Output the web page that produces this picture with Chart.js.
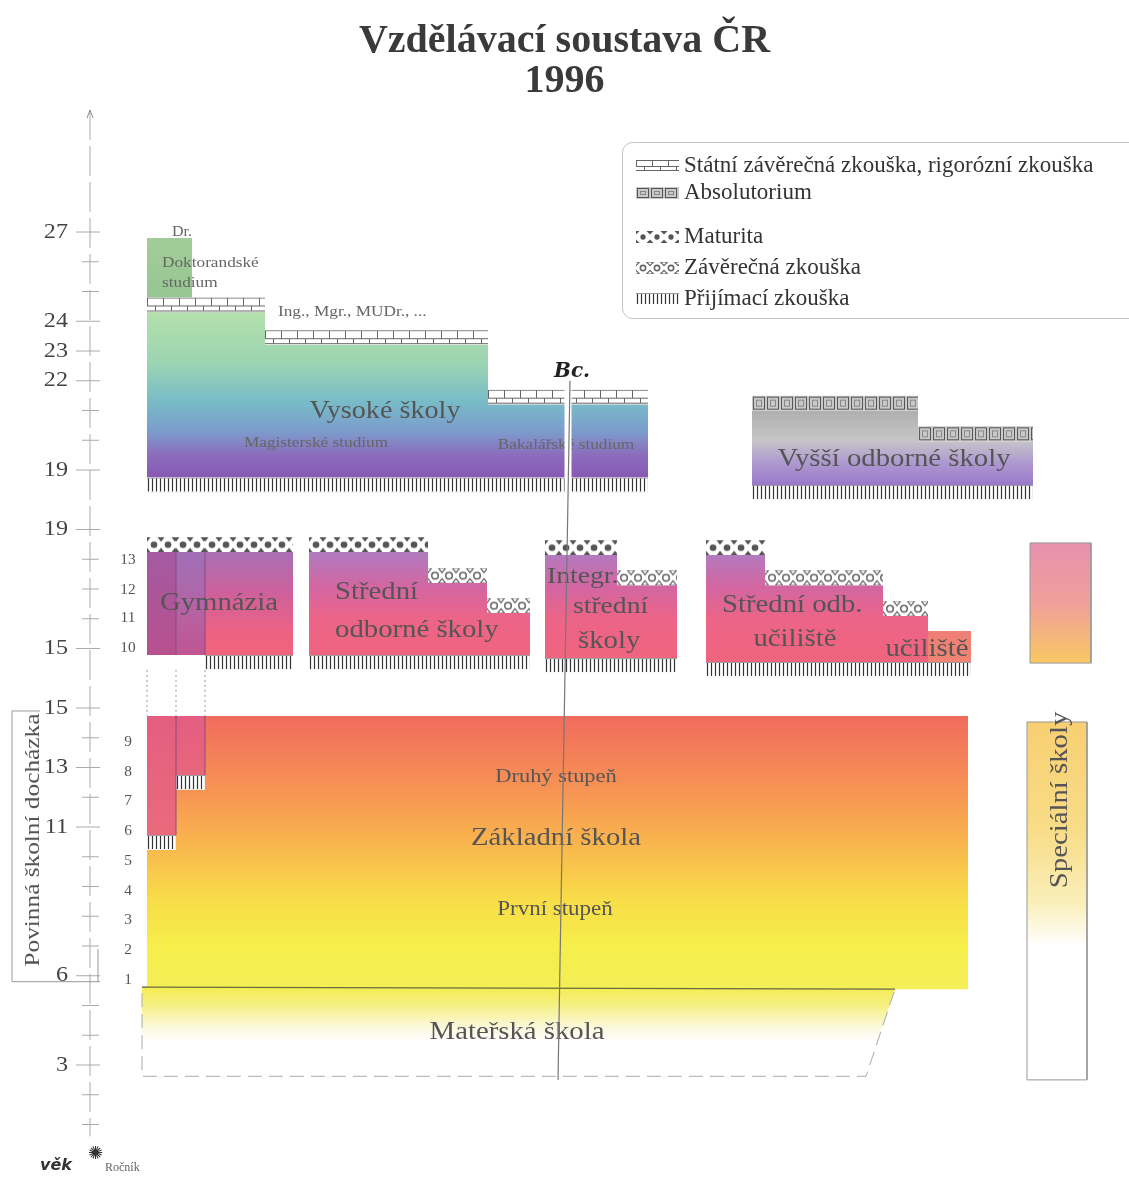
<!DOCTYPE html>
<html>
<head>
<meta charset="utf-8">
<script src="https://cdn.jsdelivr.net/npm/chart.js@4.4.1/dist/chart.umd.min.js"></script>
<style>
  html, body { margin: 0; padding: 0; background: #fff; }
  #wrap { width: 1129px; height: 1189px; }
</style>
</head>
<body>
<div id="wrap"><canvas id="chart"></canvas></div>
<script>
// age axis: three stacked sections (basic / secondary / tertiary), position -> printed age
const axisPos    = [31, 28, 27, 26, 23, 21, 17, 15, 13, 11, 6, 3];
const axisLabels = ['27', '24', '23', '22', '19', '19', '15', '15', '13', '11', '6', '3'];
const minorPos   = [1, 2, 4, 5, 7, 8, 9, 10, 12, 14, 18, 19, 20, 24, 25, 29, 30];

// school year (ročník)
const gradeLabels = ['1', '2', '3', '4', '5', '6', '7', '8', '9', '10', '11', '12', '13'];
const gradePos    = [5.85, 6.85, 7.85, 8.85, 9.85, 10.85, 11.85, 12.85, 13.85, 17, 18, 18.95, 19.95];

// school blocks: column edges, top of each step, bottom, exam closing each step, entrance exam span
const blockNames  = ['Základní škola', 'Gymnázium 8leté (1. část)', 'Gymnázium 6leté (1. část)', 'Speciální školy',
                     'Doktorandské studium', 'Vysoké školy', 'Vyšší odborné školy',
                     'Gymnázium 8leté', 'Gymnázium 6leté', 'Gymnázia', 'Střední odborné školy',
                     'Integrované střední školy', 'Střední odborná učiliště', 'Učiliště', 'Speciální školy (střední)'];
const blockEdges  = [[147, 968], [147, 176], [176, 205], [1027, 1087],
                     [147, 192], [147, 265, 488, 648], [752, 918, 1033],
                     [147, 176], [176, 205], [205, 293], [309, 428, 487, 530],
                     [545, 617, 677], [706, 765, 883, 928], [928, 971], [1030, 1091]];
const blockTops   = [[14.73], [14.73], [14.73], [14.53],
                     [30.8], [28.3, 27.2, 25.2], [25.0, 23.97],
                     [20.24], [20.24], [20.24], [20.24, 19.2, 18.19],
                     [20.14, 19.13], [20.14, 19.13, 18.09], [17.59], [20.55]];
const blockBottom = [5.55, 10.73, 12.75, 2.5,
                     28.8, 22.75, 22.5,
                     16.78, 16.78, 16.78, 16.78,
                     16.68, 16.55, 16.55, 16.51];
const blockExams  = [[null], [null], [null], [null],
                     [null], ['statni', 'statni', 'statni'], ['absolutorium', 'absolutorium'],
                     ['maturita'], ['maturita'], ['maturita'], ['maturita', 'zaverecna', 'zaverecna'],
                     ['maturita', 'zaverecna'], ['maturita', 'zaverecna', 'zaverecna'], [null], [null]];
const blockEntry  = [null, [147, 176], [176, 205], null,
                     null, [147, 648], [752, 1033],
                     null, null, [205, 293], [309, 530],
                     [545, 677], [706, 971], null, null];
// mateřská škola has a slanted right side
const kgShape = [[142, 5.62], [895, 5.55], [866, 2.62], [142, 2.62], [142, 5.62]];

const examTypes  = ['statni', 'absolutorium', 'maturita', 'zaverecna', 'prijimaci'];
const examLabels = ['Státní závěrečná zkouška, rigorózní zkouška', 'Absolutorium', 'Maturita',
                    'Závěrečná zkouška', 'Přijímací zkouška'];

// colours (vertical gradients, top stop first)
const pinkStops = [[20.24, '#b07cc0'], [19.1, '#d266a2'], [18.0, '#ec6488'], [16.6, '#f0647e']];
const blockFill = [
  [[14.73, '#f06c5e'], [12.8, '#f58a56'], [10.7, '#f9b04e'], [8.6, '#f8dc48'], [7, '#f6ee4a'], [5.55, '#f4ee58']],
  [[14.73, '#e45e80'], [10.73, '#ea6a7c']],
  [[14.73, '#e45e80'], [12.75, '#e8667c']],
  [[14.53, '#f8cf72'], [11, '#f8dc86'], [8.5, '#faeeb8'], [7, '#ffffff'], [2.5, '#ffffff']],
  [[30.8, '#a2cd98'], [28.8, '#96c692']],
  [[28.3, '#b3e0ab'], [26.6, '#9cd4b2'], [25.3, '#78bcc8'], [24.3, '#7c9ccc'], [23.5, '#8c6cbc'], [22.75, '#8858b4']],
  [[25.0, '#afafaf'], [24.0, '#c6c6c6'], [23.3, '#b09cd0'], [22.5, '#9a78cc']],
  [[20.24, '#a45aa2'], [16.78, '#b8508e']],
  [[20.24, '#a070b8'], [18.0, '#b860a0'], [16.78, '#c05592']],
  [[20.24, '#a870b4'], [18.8, '#d0609a'], [17.5, '#ee6282'], [16.78, '#f0647e']],
  pinkStops, pinkStops, pinkStops,
  [[17.59, '#ee7e76'], [16.55, '#f08474']],
  [[20.55, '#e890ae'], [18.5, '#f0a09a'], [16.51, '#f8c862']]
];
const blockBorder = [null, null, null, '#999', null, null, null, null, null, null, null, null, null, null, '#999'];
const kgFill = [[5.62, '#f4ec50'], [5.0, '#f6f084'], [4.3, '#fbf8d8'], [3.8, '#ffffff'], [2.62, '#ffffff']];

const BAND = 0.5;
const SERIF = '"Liberation Serif", "Times New Roman", serif';

function examTile(type, h) {
  const H = Math.max(4, Math.round(h));
  const W = type === 'prijimaci' ? 4 : type === 'statni' ? 16 : 14;
  const c = document.createElement('canvas');
  c.width = W; c.height = H;
  const g = c.getContext('2d');
  g.fillStyle = type === 'absolutorium' ? '#c9c9c9' : '#fff';
  g.fillRect(0, 0, W, H);
  g.strokeStyle = '#666'; g.fillStyle = '#555'; g.lineWidth = 1;
  if (type === 'statni') {
    const r = Math.round(H / 2) + 0.5;
    g.beginPath();
    g.moveTo(0, 0.5); g.lineTo(W, 0.5);
    g.moveTo(0, r); g.lineTo(W, r);
    g.moveTo(0, H - 1.5); g.lineTo(W, H - 1.5);
    g.moveTo(0.5, 0); g.lineTo(0.5, r);
    g.moveTo(W / 2 + 0.5, r); g.lineTo(W / 2 + 0.5, H - 1.5);
    g.stroke();
  } else if (type === 'absolutorium') {
    g.strokeStyle = '#555';
    g.strokeRect(1.5, 1.5, W - 3, H - 3);
    g.strokeStyle = '#888';
    g.strokeRect(4.5, 4.5, W - 9, H - 9);
  } else if (type === 'maturita' || type === 'zaverecna') {
    const solid = type === 'maturita';
    g.beginPath(); g.arc(W / 2, H / 2, H * 0.22, 0, Math.PI * 2);
    if (solid) g.fill(); else { g.lineWidth = 1.6; g.stroke(); }
    g.lineWidth = 1.2;
    for (const x of [0, W]) {
      g.beginPath();
      g.moveTo(x - 3.5, 0); g.lineTo(x + 3.5, 0); g.lineTo(x, H * 0.3); g.closePath();
      g.moveTo(x - 3.5, H); g.lineTo(x + 3.5, H); g.lineTo(x, H * 0.7); g.closePath();
      if (solid) g.fill(); else g.stroke();
    }
  } else {
    g.strokeStyle = '#333'; g.lineWidth = 1.2;
    g.beginPath(); g.moveTo(1.5, 1); g.lineTo(1.5, H - 1); g.stroke();
    g.strokeStyle = '#999'; g.lineWidth = 1;
    g.beginPath(); g.moveTo(0, 0.5); g.lineTo(W, 0.5); g.stroke();
  }
  return c;
}

function gradient(stops) {
  return (c) => {
    const chart = c.chart;
    if (!chart.chartArea) return stops[0][1];
    const y = chart.scales.y;
    const top = y.getPixelForValue(stops[0][0]);
    const bot = y.getPixelForValue(stops[stops.length - 1][0]);
    const g = chart.ctx.createLinearGradient(0, top, 0, bot);
    stops.forEach(([v, col]) => g.addColorStop((y.getPixelForValue(v) - top) / (bot - top), col));
    return g;
  };
}

function examFill(type, x0, topV) {
  return (c) => {
    const chart = c.chart;
    if (!chart.chartArea) return '#fff';
    const y = chart.scales.y;
    const py0 = y.getPixelForValue(topV);
    const pat = chart.ctx.createPattern(examTile(type, y.getPixelForValue(topV - BAND) - py0), 'repeat');
    pat.setTransform(new DOMMatrix([1, 0, 0, 1, chart.scales.x.getPixelForValue(x0), py0]));
    return pat;
  };
}

const datasets = [];
function polygon(pts, fill, border, dash) {
  datasets.push({
    data: pts.map(p => ({ x: p[0], y: p[1] })),
    fill: 'shape',
    backgroundColor: fill,
    borderColor: border || 'rgba(0,0,0,0)',
    borderWidth: border ? 1 : 0,
    borderDash: dash || [],
    pointRadius: 0,
    order: -datasets.length
  });
}
function rect(x0, x1, y0, y1, fill) {
  polygon([[x0, y0], [x1, y0], [x1, y1], [x0, y1], [x0, y0]], fill);
}
function steps(edges, tops, bottom) {
  const pts = [[edges[0], bottom]];
  tops.forEach((t, i) => pts.push([edges[i], t], [edges[i + 1], t]));
  pts.push([edges[edges.length - 1], bottom], [edges[0], bottom]);
  return pts;
}

polygon(kgShape, gradient(kgFill), '#aaa', [14, 7]);
blockNames.forEach((name, i) => {
  const edges = blockEdges[i], tops = blockTops[i];
  polygon(steps(edges, tops, blockBottom[i]), gradient(blockFill[i]), blockBorder[i]);
  blockExams[i].forEach((ex, k) => {
    if (ex) rect(edges[k], edges[k + 1], tops[k], tops[k] + BAND, examFill(ex, edges[k], tops[k] + BAND));
  });
  const en = blockEntry[i];
  if (en) rect(en[0], en[1], blockBottom[i] - BAND, blockBottom[i], examFill('prijimaci', en[0], blockBottom[i]));
});

// labels inside the diagram: text, x, axis position, size, align
const texts = [
  ['Dr.', 182, 31.0, 14, 'center'],
  ['Doktorandské', 162, 29.96, 15, 'left'],
  ['studium', 162, 29.29, 15, 'left'],
  ['Ing., Mgr., MUDr., ...', 278, 28.31, 15, 'left'],
  ['Vysoké školy', 385, 24.95, 24.5, 'center'],
  ['Magisterské studium', 316, 23.91, 15, 'center'],
  ['Bakalářské studium', 566, 23.85, 15, 'center'],
  ['Vyšší odborné školy', 894, 23.34, 25, 'center'],
  ['Gymnázia', 219, 18.53, 25, 'center'],
  ['Střední', 335, 18.9, 25, 'left'],
  ['odborné školy', 335, 17.62, 25, 'left'],
  ['Integr.', 547, 19.4, 24, 'left'],
  ['střední', 573, 18.39, 24, 'left'],
  ['školy', 578, 17.25, 25, 'left'],
  ['Střední odb.', 722, 18.46, 25, 'left'],
  ['učiliště', 795, 17.32, 25, 'center'],
  ['učiliště', 927, 16.98, 25, 'center'],
  ['Druhý stupeň', 556, 12.68, 19.5, 'center'],
  ['Základní škola', 556, 10.63, 25, 'center'],
  ['První stupeň', 555, 8.21, 20, 'center'],
  ['Mateřská škola', 517, 4.11, 25, 'center']
];

function say(ctx, text, x, y, size, align, rotate, stretch) {
  ctx.save();
  ctx.translate(x, y);
  if (rotate) ctx.rotate(-Math.PI / 2);
  ctx.scale(stretch || 1.15, 1);
  ctx.font = size + 'px ' + SERIF;
  ctx.textAlign = align;
  ctx.textBaseline = 'middle';
  ctx.fillText(text, 0, 0);
  ctx.restore();
}
function seg(ctx, x0, y0, x1, y1) {
  ctx.beginPath(); ctx.moveTo(x0, y0); ctx.lineTo(x1, y1); ctx.stroke();
}

const decor = {
  id: 'decor',
  afterDatasetsDraw(chart) {
    const ctx = chart.ctx;
    const X = v => chart.scales.x.getPixelForValue(v);
    const Y = v => chart.scales.y.getPixelForValue(v);
    ctx.save();

    // gymnasium division lines
    ctx.strokeStyle = '#8a4a7e'; ctx.lineWidth = 1;
    seg(ctx, X(176), Y(20.24), X(176), Y(16.78));
    seg(ctx, X(205), Y(20.24), X(205), Y(16.78));
    seg(ctx, X(176), Y(14.73), X(176), Y(10.73));
    seg(ctx, X(205), Y(14.73), X(205), Y(12.75));
    ctx.strokeStyle = '#999'; ctx.setLineDash([2, 3]);
    [147, 176, 205].forEach(v => seg(ctx, X(v), Y(16.28), X(v), Y(14.73)));
    ctx.setLineDash([]);

    // border between základní and mateřská škola
    ctx.strokeStyle = '#6b6b3c'; ctx.lineWidth = 1.3;
    seg(ctx, X(142), Y(5.62), X(895), Y(5.55));

    // age axis
    const ax = X(90);
    ctx.strokeStyle = '#aaa'; ctx.lineWidth = 1;
    ctx.setLineDash([30, 6]);
    seg(ctx, ax, Y(35.1), ax, Y(0.6));
    ctx.setLineDash([]);
    ctx.strokeStyle = '#888';
    ctx.beginPath(); ctx.moveTo(ax - 3, Y(35.1) + 8); ctx.lineTo(ax, Y(35.1)); ctx.lineTo(ax + 3, Y(35.1) + 8); ctx.stroke();
    ctx.strokeStyle = '#aaa';
    minorPos.forEach(v => seg(ctx, ax - 8, Y(v), ax + 9, Y(v)));
    ctx.fillStyle = '#444';
    axisPos.forEach((v, i) => {
      seg(ctx, ax - 14, Y(v), ax + 10, Y(v));
      say(ctx, axisLabels[i], X(68), Y(v), 21, 'right');
    });

    // povinná školní docházka bracket
    ctx.strokeStyle = '#999';
    ctx.beginPath();
    ctx.moveTo(X(40), Y(14.9)); ctx.lineTo(X(12), Y(14.9)); ctx.lineTo(X(12), Y(5.8)); ctx.lineTo(X(100), Y(5.8));
    ctx.moveTo(X(98), Y(5.8)); ctx.lineTo(X(98), Y(6.9));
    ctx.stroke();
    ctx.fillStyle = '#555';
    say(ctx, 'Povinná školní docházka', X(33), Y(10.56), 22, 'center', true);

    // ročník
    ctx.fillStyle = '#555';
    gradeLabels.forEach((g, i) => say(ctx, g, X(128), Y(gradePos[i]), 14, 'center', false, 1.1));

    // labels
    texts.forEach(([t, x, v, size, align]) => {
      ctx.fillStyle = size < 17 ? '#666' : '#555';
      say(ctx, t, X(x), Y(v), size, align);
    });
    ctx.fillStyle = '#555';
    say(ctx, 'Speciální školy', X(1060), Y(11.91), 25, 'center', true);

    // pen line across the sheet
    ctx.fillStyle = '#fff';
    ctx.fillRect(X(564.5), Y(25.72), X(571.5) - X(564.5), Y(22.24) - Y(25.72));
    ctx.strokeStyle = '#777'; ctx.lineWidth = 1.2;
    seg(ctx, X(570), Y(26.0), X(558), Y(2.5));
    ctx.fillStyle = '#222';
    ctx.font = 'italic bold 20px "DejaVu Serif"';
    ctx.textAlign = 'left'; ctx.textBaseline = 'middle';
    ctx.fillText('Bc.', X(554), Y(26.3));

    // legend
    ctx.strokeStyle = '#c4c4c4'; ctx.lineWidth = 1;
    ctx.beginPath(); ctx.roundRect(622.5, 142.5, 530, 176, 10); ctx.stroke();
    const legendY = [166, 193, 237, 268, 299];
    examTypes.forEach((t, i) => {
      const pat = ctx.createPattern(examTile(t, 12), 'repeat');
      pat.setTransform(new DOMMatrix([1, 0, 0, 1, 636, legendY[i] - 6]));
      ctx.fillStyle = pat;
      ctx.fillRect(636, legendY[i] - 6, 43, 12);
      ctx.fillStyle = '#333';
      ctx.font = '23px ' + SERIF;
      ctx.textAlign = 'left'; ctx.textBaseline = 'middle';
      ctx.fillText(examLabels[i], 684, legendY[i]);
    });

    // věk / ročník key
    ctx.fillStyle = '#333';
    ctx.font = 'bold italic 16px "DejaVu Sans"';
    ctx.fillText('věk', 40, 1166);
    ctx.font = '18px "DejaVu Sans"';
    ctx.fillText('✺', 88, 1154);
    ctx.fillStyle = '#666';
    ctx.font = '12px ' + SERIF;
    ctx.fillText('Ročník', 105, 1168);
    ctx.restore();
  }
};

new Chart(document.getElementById('chart'), {
  type: 'line',
  data: { datasets },
  options: {
    responsive: true,
    maintainAspectRatio: false,
    animation: false,
    events: [],
    layout: { padding: 0 },
    elements: { point: { radius: 0, hitRadius: 0 }, line: { tension: 0 } },
    scales: {
      x: { type: 'linear', display: false, min: 0, max: 1129 },
      y: { type: 'linear', display: false, min: -1.168, max: 35.37 }
    },
    plugins: {
      legend: { display: false },
      tooltip: { enabled: false },
      title: {
        display: true,
        text: ['Vzdělávací soustava ČR', '1996'],
        color: '#3a3a3a',
        font: { family: SERIF, size: 40, weight: 'bold', lineHeight: 1.0 },
        padding: { top: 22, bottom: 0 }
      }
    }
  },
  plugins: [decor]
});
</script>
</body>
</html>
